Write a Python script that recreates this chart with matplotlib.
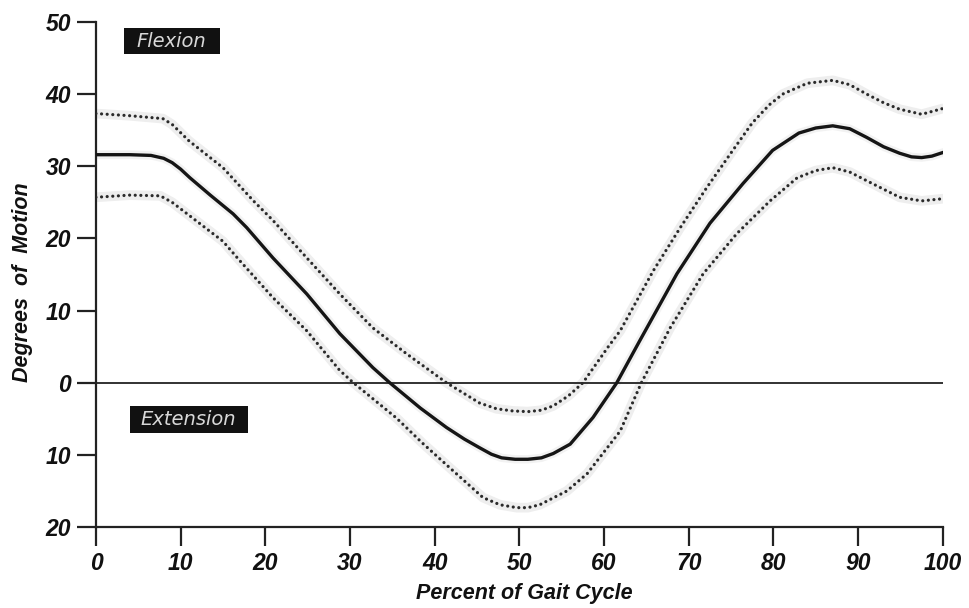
import matplotlib
matplotlib.use("Agg")
import matplotlib.pyplot as plt
from matplotlib.ticker import FixedLocator, FuncFormatter
from matplotlib.patches import Rectangle

# ---- data ----
mean_x = [0, 4, 6.5, 8, 9, 10, 11.1, 13.5, 16.2, 17.8, 20.9, 24.9, 28.8, 32.7, 34.7, 38.3, 41.4,
          43.5, 45.3, 46.7, 47.9, 49.5, 51, 52.6, 54, 56, 58.7, 61.5, 64.2, 68.6, 72.5, 76.4, 79.9,
          83, 85, 87, 89, 91, 93, 94.9, 96.3, 97.5, 98.7, 100]
mean_y = [31.6, 31.6, 31.5, 31.1, 30.5, 29.6, 28.4, 26.0, 23.4, 21.5, 17.3, 12.3, 6.8, 2.1, 0, -3.5, -6.2,
          -7.8, -9.0, -9.9, -10.4, -10.6, -10.6, -10.4, -9.8, -8.5, -4.8, 0, 5.8, 15.1, 22.1, 27.6, 32.2,
          34.6, 35.3, 35.6, 35.2, 34.0, 32.7, 31.8, 31.3, 31.2, 31.4, 31.9]

upper_x = [0, 4, 7.9, 9, 11, 15, 18.6, 20.9, 24.9, 28.8, 32.7, 36.7, 41.4, 45.3, 47.3, 49.2, 51, 52.6,
           54, 55.8, 57.5, 60.5, 61.9, 65.8, 69, 72.1, 75.2, 77.5, 79.5, 81.1, 84, 87, 89, 91, 93,
           94.9, 97.5, 100]
upper_y = [37.3, 37.0, 36.6, 35.8, 33.5, 29.8, 25.2, 22.5, 17.3, 12.3, 7.6, 4.0, 0, -2.8, -3.6, -3.9, -4.0, -3.8,
           -3.2, -1.8, 0, 5.0, 7.2, 15.5, 21.5, 27.0, 32.2, 36.0, 38.5, 40.0, 41.5, 41.9, 41.3, 40.0, 38.8,
           37.9, 37.2, 38.0]

lower_x = [0, 4, 7.6, 9, 11, 15, 17, 20.9, 24.9, 28.8, 30.4, 35.5, 38.5, 41.8, 45.7, 47.7, 49.7, 51, 52.4,
           55.6, 58, 61.9, 64.4, 67.8, 71.7, 75.7, 79.6, 82.8, 85, 87, 89, 91, 94.9, 97.5, 100]
lower_y = [25.7, 26.0, 25.9, 25.0, 23.2, 19.6, 16.9, 11.8, 7.2, 1.7, 0, -4.9, -8.3, -11.8, -15.9, -16.9, -17.3, -17.3, -16.9,
           -15.0, -12.6, -6.7, 0, 7.6, 15.1, 20.7, 25.2, 28.4, 29.4, 29.8, 29.2, 28.0, 25.7, 25.2, 25.5]

x_ticks = [0, 10, 20, 30, 40, 50, 60, 70, 80, 90, 100]
y_ticks = [-20, -10, 0, 10, 20, 30, 40, 50]

plt.rcParams['font.family'] = ['Liberation Sans', 'DejaVu Sans']

fig = plt.figure(figsize=(9.69, 6.08), dpi=100)
ax = fig.add_axes([0.099, 0.133, 0.874, 0.831])
ax.set_xlim(0, 100)
ax.set_ylim(-20, 50)

halo = '#eeeeee'
dot = dict(color='#2a2a2a', linewidth=2.3, linestyle=(0, (0.01, 1.75)), dash_capstyle='round')
for xs, ys in [(upper_x, upper_y), (lower_x, lower_y)]:
    ax.plot(xs, ys, color=halo, linewidth=7, solid_capstyle='round', zorder=1)
    ax.plot(xs, ys, zorder=3, **dot)
ax.plot(mean_x, mean_y, color='#f2f2f2', linewidth=6, zorder=1)
ax.plot(mean_x, mean_y, color='#151515', linewidth=2.4, zorder=4, solid_joinstyle='round')

ax.axhline(0, color='#222222', linewidth=1.3, zorder=2)

for s in ['top', 'right']:
    ax.spines[s].set_visible(False)
for s in ['left', 'bottom']:
    ax.spines[s].set_linewidth(1.6)
    ax.spines[s].set_color('#222222')

ax.xaxis.set_major_locator(FixedLocator(x_ticks))
ax.yaxis.set_major_locator(FixedLocator(y_ticks))
ax.yaxis.set_major_formatter(FuncFormatter(lambda v, p: f"{abs(int(v))}"))
ax.tick_params(axis='both', direction='out', length=14, width=1.6, color='#222222',
               labelsize=16.5, pad=4)
for lab in ax.get_xticklabels() + ax.get_yticklabels():
    lab.set_fontweight('bold')
    lab.set_fontstyle('italic')
    lab.set_color('#111111')

ax.set_xlabel('Percent of Gait Cycle', fontsize=15.5, fontweight='bold', fontstyle='italic',
              color='#111111', va='center', ha='center')
ax.xaxis.set_label_coords(0.506, -0.131)
ax.set_ylabel('Degrees  of  Motion', fontsize=15.5, fontweight='bold', fontstyle='italic',
              color='#111111', va='center', ha='center')
ax.yaxis.set_label_coords(-0.087, 0.485)

# black label boxes
ax.add_patch(Rectangle((3.3, 45.6), 11.3, 3.6, facecolor='#111111', edgecolor='none', zorder=5))
ax.add_patch(Rectangle((4.0, -6.9), 13.9, 3.7, facecolor='#111111', edgecolor='none', zorder=5))
ax.text(8.95, 47.35, 'Flexion', ha='center', va='center', fontsize=14, fontstyle='italic',
        family='DejaVu Sans', color='#d8d8d8', zorder=6)
ax.text(10.95, -5.1, 'Extension', ha='center', va='center', fontsize=14, fontstyle='italic',
        family='DejaVu Sans', color='#d8d8d8', zorder=6)

fig.savefig('out.png', dpi=100, facecolor='white')
